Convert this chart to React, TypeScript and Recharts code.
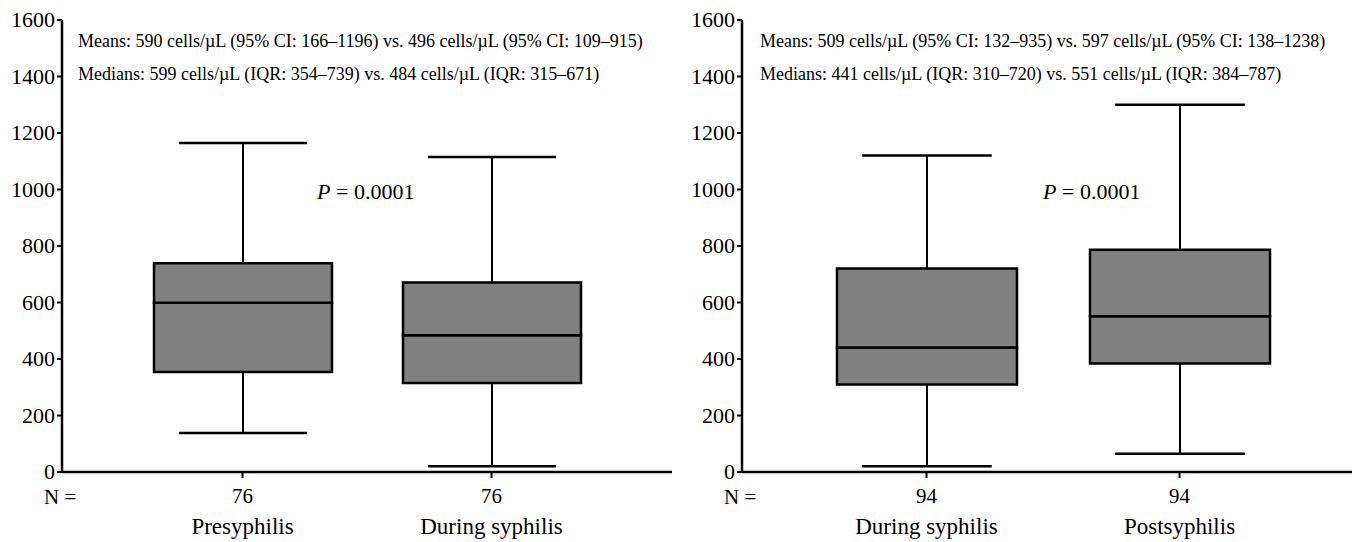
import { ComposedChart, Bar, XAxis, YAxis, Customized } from "recharts";

const leftGroups = ["Presyphilis", "During syphilis"];
const leftN = [76, 76];
const leftMin = [138, 20];
const leftQ1 = [354, 315];
const leftMedian = [599, 484];
const leftQ3 = [739, 671];
const leftMax = [1165, 1115];
const leftNotes = [
  "Means: 590 cells/µL (95% CI: 166–1196) vs. 496 cells/µL (95% CI: 109–915)",
  "Medians: 599 cells/µL (IQR: 354–739) vs. 484 cells/µL (IQR: 315–671)",
];

const rightGroups = ["During syphilis", "Postsyphilis"];
const rightN = [94, 94];
const rightMin = [20, 65];
const rightQ1 = [310, 384];
const rightMedian = [441, 551];
const rightQ3 = [720, 787];
const rightMax = [1120, 1300];
const rightNotes = [
  "Means: 509 cells/µL (95% CI: 132–935) vs. 597 cells/µL (95% CI: 138–1238)",
  "Medians: 441 cells/µL (IQR: 310–720) vs. 551 cells/µL (IQR: 384–787)",
];

const yTicks = [0, 200, 400, 600, 800, 1000, 1200, 1400, 1600];
const pText = "0.0001";

const FONT = "'Liberation Serif', 'Times New Roman', serif";
const INK = "#000";

const LowWhisker = (props: any) => {
  const { x, y, width, height } = props;
  const cx = x + width / 2;
  const cap = width * 0.36;
  return (
    <g>
      <line x1={cx} x2={cx} y1={y} y2={y + height} stroke={INK} strokeWidth={2} />
      <line x1={cx - cap} x2={cx + cap} y1={y + height} y2={y + height} stroke={INK} strokeWidth={2.5} />
    </g>
  );
};

const HighWhisker = (props: any) => {
  const { x, y, width, height } = props;
  const cx = x + width / 2;
  const cap = width * 0.36;
  return (
    <g>
      <line x1={cx} x2={cx} y1={y} y2={y + height} stroke={INK} strokeWidth={2} />
      <line x1={cx - cap} x2={cx + cap} y1={y} y2={y} stroke={INK} strokeWidth={2.5} />
    </g>
  );
};

function GroupTick({ x, y, payload, counts }: any) {
  return (
    <g>
      <text x={x} y={y + 25} textAnchor="middle" style={{ fontSize: 21, fontFamily: FONT }} fill={INK}>
        {counts[payload.index]}
      </text>
      <text x={x} y={y + 56} textAnchor="middle" style={{ fontSize: 23, fontFamily: FONT }} fill={INK}>
        {payload.value}
      </text>
    </g>
  );
}

const renderValueTick = (props: any) => {
  const { x, y, payload } = props;
  return (
    <text
      key={`yt-${payload.value}`}
      x={x}
      y={y + 7}
      textAnchor="end"
      fill={INK}
      style={{ fontSize: 22, fontFamily: FONT }}
    >
      {payload.value}
    </text>
  );
};

type PanelProps = {
  groups: string[];
  counts: number[];
  mins: number[];
  q1s: number[];
  medians: number[];
  q3s: number[];
  maxs: number[];
  notes: string[];
  width: number;
  barSize: number;
  padL: number;
  padR: number;
  noteX: number;
  pX: number;
};

function BoxPanel(p: PanelProps) {
  const rows = p.groups.map((g, i) => ({
    name: g,
    base: p.mins[i],
    lowWhisker: p.q1s[i] - p.mins[i],
    lowBox: p.medians[i] - p.q1s[i],
    highBox: p.q3s[i] - p.medians[i],
    highWhisker: p.maxs[i] - p.q3s[i],
  }));

  const overlay = () => (
    <g>
      <text x={p.noteX} y={47} style={{ fontSize: 18, fontFamily: FONT }} fill={INK}>{p.notes[0]}</text>
      <text x={p.noteX} y={80} style={{ fontSize: 18, fontFamily: FONT }} fill={INK}>{p.notes[1]}</text>
      <text x={p.pX} y={199} style={{ fontSize: 22, fontFamily: FONT }} fill={INK}>
        <tspan fontStyle="italic">P</tspan> = {pText}
      </text>
      <text x={44} y={504} style={{ fontSize: 21, fontFamily: FONT }} fill={INK}>N =</text>
    </g>
  );

  return (
    <ComposedChart
      width={p.width}
      height={542}
      data={rows}
      margin={{ top: 20, right: 10, left: 12, bottom: 10 }}
      barSize={p.barSize}
    >
      <XAxis
        dataKey="name"
        height={60}
        padding={{ left: p.padL, right: p.padR }}
        axisLine={{ stroke: INK, strokeWidth: 2.5 }}
        tickLine={{ stroke: INK, strokeWidth: 2 }}
        tickSize={6}
        tickMargin={0}
        interval={0}
        tick={<GroupTick counts={p.counts} />}
      />
      <XAxis
        xAxisId="top"
        orientation="top"
        dataKey="name"
        height={0}
        tick={false}
        tickLine={false}
        axisLine={{ stroke: INK, strokeWidth: 2.5 }}
      />
      <YAxis
        domain={[0, 1600]}
        ticks={yTicks}
        width={50}
        interval={0}
        axisLine={{ stroke: INK, strokeWidth: 2.5 }}
        tickLine={{ stroke: INK, strokeWidth: 2 }}
        tickSize={5}
        tickMargin={2}
        tick={renderValueTick}
      />
      <YAxis
        yAxisId="frame"
        orientation="right"
        width={0}
        tick={false}
        tickLine={false}
        axisLine={{ stroke: INK, strokeWidth: 2.5 }}
      />
      <Bar dataKey="base" stackId="box" fill="transparent" isAnimationActive={false} />
      <Bar dataKey="lowWhisker" stackId="box" shape={LowWhisker} isAnimationActive={false} />
      <Bar dataKey="lowBox" stackId="box" fill="#808080" stroke={INK} strokeWidth={2.5} isAnimationActive={false} />
      <Bar dataKey="highBox" stackId="box" fill="#808080" stroke={INK} strokeWidth={2.5} isAnimationActive={false} />
      <Bar dataKey="highWhisker" stackId="box" shape={HighWhisker} isAnimationActive={false} />
      <Customized component={overlay} />
    </ComposedChart>
  );
}

export default function App() {
  return (
    <div
      style={{
        position: "absolute",
        left: 0,
        top: 0,
        width: 1352,
        height: 542,
        overflow: "hidden",
        background: "#fff",
        fontFamily: FONT,
      }}
    >
      <div style={{ position: "absolute", left: 0, top: 0 }}>
        <BoxPanel
          groups={leftGroups}
          counts={leftN}
          mins={leftMin}
          q1s={leftQ1}
          medians={leftMedian}
          q3s={leftQ3}
          maxs={leftMax}
          notes={leftNotes}
          width={682}
          barSize={178}
          padL={56}
          padR={56}
          noteX={78}
          pX={317}
        />
      </div>
      <div style={{ position: "absolute", left: 680, top: 0 }}>
        <BoxPanel
          groups={rightGroups}
          counts={rightN}
          mins={rightMin}
          q1s={rightQ1}
          medians={rightMedian}
          q3s={rightQ3}
          maxs={rightMax}
          notes={rightNotes}
          width={695}
          barSize={180}
          padL={58}
          padR={59}
          noteX={80}
          pX={363}
        />
      </div>
    </div>
  );
}
